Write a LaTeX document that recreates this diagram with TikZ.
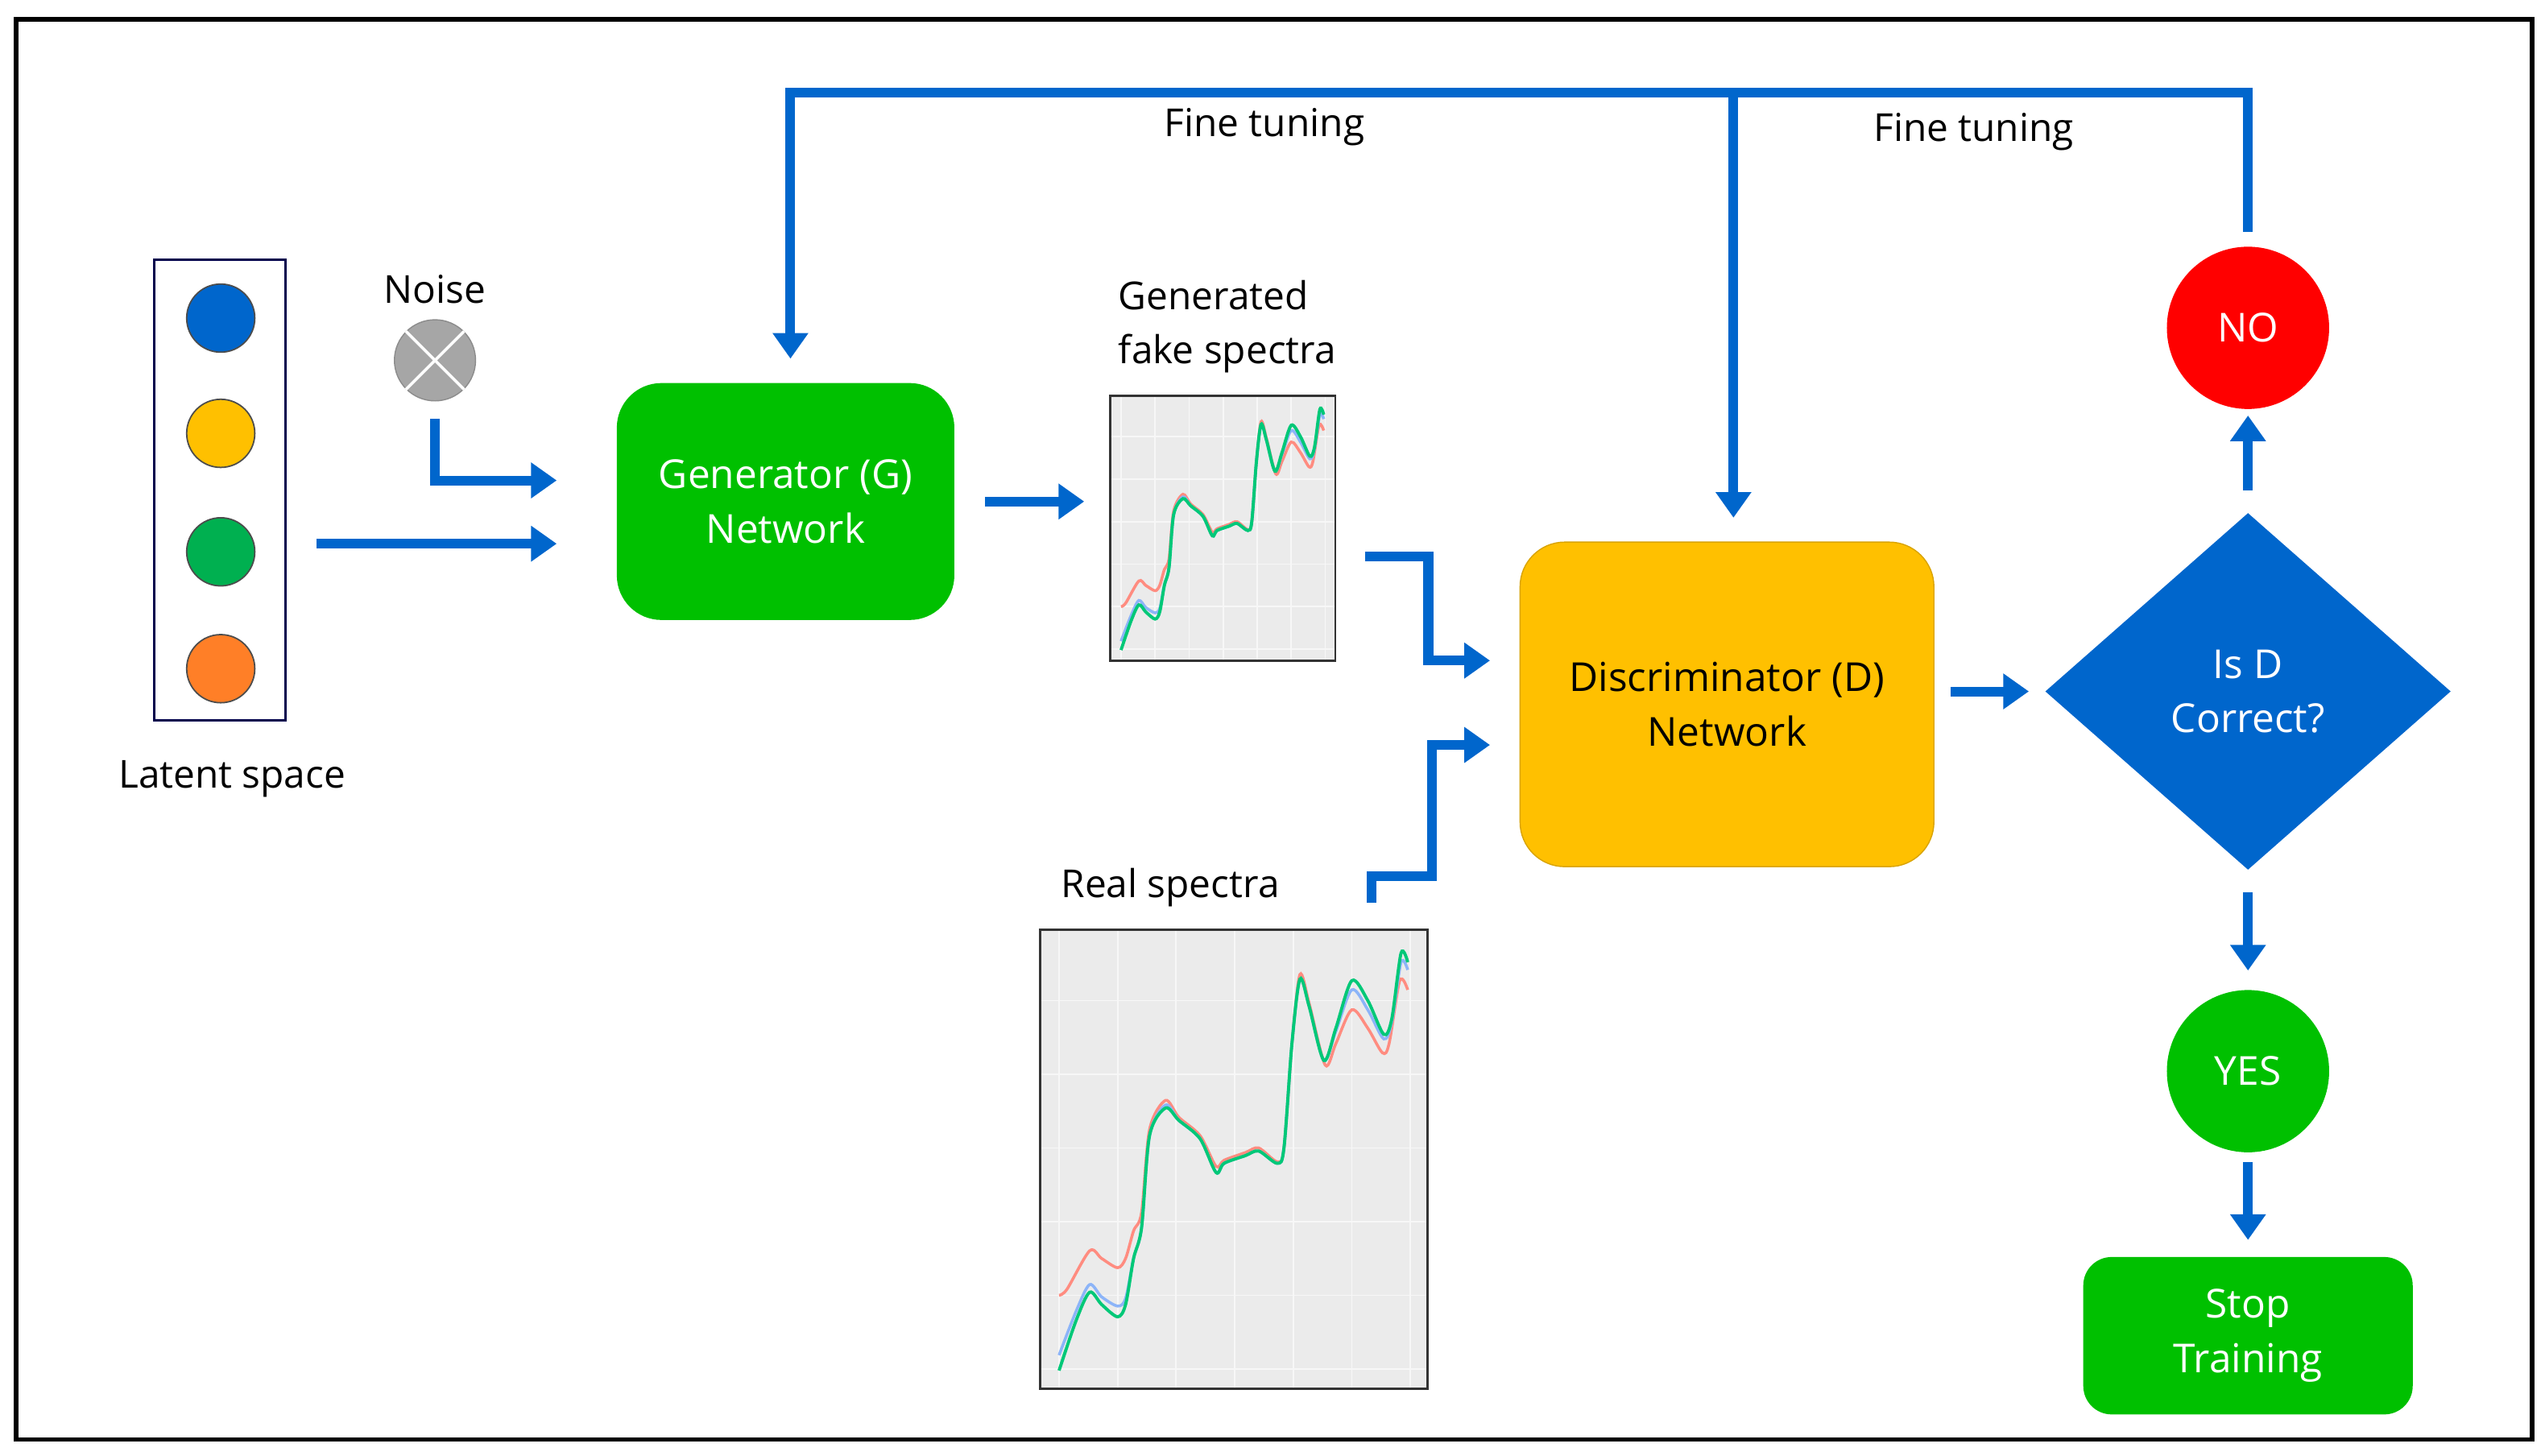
\documentclass[tikz,border=0pt]{standalone}
\usepackage{fontspec}
\setmainfont{Open Sans}
\usetikzlibrary{arrows.meta,shapes.geometric,positioning}
\definecolor{flowblue}{HTML}{0066CC}
\definecolor{boxgreen}{HTML}{00C000}
\definecolor{boxyellow}{HTML}{FFC000}
\definecolor{dotorange}{HTML}{FF7F27}
\definecolor{dotgreen}{HTML}{00B050}
\definecolor{plotbg}{HTML}{EBEBEB}
\definecolor{lred}{HTML}{FF8C80}
\definecolor{lblue}{HTML}{8CB4F8}
\definecolor{lgreen}{HTML}{00C878}
% spectrum plot drawn in its own pixel grid (1455 x 1495)
\newcommand\spectrumplot{%
  \fill[plotbg] (0,0) rectangle (1455,1495);
  \foreach \gx in {70,290,...,1400} \draw[white!60!plotbg,line width=0.5pt] (\gx,0) -- (\gx,1495);
  \foreach \gy in {230,470,...,1490} \draw[white!60!plotbg,line width=0.5pt] (0,\gy) -- (1455,\gy);
  \draw[lred,line width=1pt] plot[smooth,tension=0.5] coordinates {(70,1190) (100,1170) (185,1045) (230,1070) (290,1100) (320,1070) (350,980) (380,920) (410,650) (470,555) (520,610) (600,670) (660,770) (690,750) (770,725) (820,710) (890,755) (915,710) (945,370) (975,145) (1010,240) (1070,440) (1110,370) (1170,260) (1230,320) (1285,400) (1310,370) (1350,165) (1380,195)};
  \draw[lblue,line width=1pt] plot[smooth,tension=0.5] coordinates {(70,1385) (135,1240) (185,1155) (230,1195) (290,1225) (320,1200) (350,1070) (380,970) (410,670) (470,570) (520,620) (600,680) (660,790) (690,760) (770,735) (820,720) (890,760) (915,710) (945,370) (975,160) (1010,250) (1065,425) (1110,330) (1170,195) (1230,260) (1290,355) (1320,300) (1355,105) (1380,130)};
  \draw[lgreen,line width=1.1pt] plot[smooth,tension=0.5] coordinates {(70,1435) (135,1270) (185,1180) (230,1220) (290,1260) (320,1220) (350,1070) (380,970) (410,670) (470,580) (520,620) (600,680) (660,790) (690,760) (770,735) (820,720) (890,760) (915,710) (945,370) (975,160) (1010,250) (1065,425) (1110,320) (1170,165) (1230,230) (1290,340) (1320,290) (1355,75) (1380,105)};
  \draw[black!80,line width=0.8pt] (0,0) rectangle (1455,1495);
}
\begin{document}
\begin{tikzpicture}[x=0.02cm,y=-0.02cm,
  flow/.style = {draw=flowblue,line width=3.4pt,-{Triangle[width=12pt,length=9pt]}},
  box/.style  = {draw=none,rounded corners=0.55cm,align=center,font=\fontsize{14}{19}\selectfont},
  dot/.style  = {circle,draw=black!70,line width=0.5pt,minimum size=0.84cm,inner sep=0pt},
  lbl/.style  = {font=\fontsize{13.5}{19}\selectfont,align=left},
  round/.style= {circle,minimum size=2cm,inner sep=0pt,text=white,font=\fontsize{14}{16}\selectfont},
  ]
\useasboundingbox (0,0) rectangle (1568,897);
\draw[line width=1.6pt] (10,12) rectangle (1560,887);

% latent space
\draw[draw=black!70!blue,line width=0.8pt] (95,160) rectangle (176,444);
\node[dot,fill=flowblue] (l1) at (136,196) {};
\node[dot,fill=boxyellow] (l2) at (136,267) {};
\node[dot,fill=dotgreen] (l3) at (136,340) {};
\node[dot,fill=dotorange] (l4) at (136,412) {};
\node[lbl] (latent) at (143,480) {Latent space};

% noise
\node[circle,fill=black!35,draw=black!45,minimum size=1cm,inner sep=0pt] (noise) at (268,222) {};
\draw[white,line width=1pt] (noise.45) -- (noise.225) (noise.135) -- (noise.315);
\node[lbl] (noiselbl) at (268,178) {Noise};

% main boxes
\node[box,fill=boxgreen,text=white,minimum width=4.16cm,minimum height=2.92cm] (gen) at (484,309) {Generator (G)\\Network};
\node[box,fill=boxyellow,draw=boxyellow!85!black,minimum width=5.1cm,minimum height=4cm] (disc) at (1064,434) {Discriminator (D)\\Network};
\node[diamond,fill=flowblue,text=white,minimum width=5cm,minimum height=4.4cm,inner sep=0pt,align=center,font=\fontsize{14}{19}\selectfont] (check) at (1385,426) {Is D\\Correct?};
\node[round,fill=red] (no) at (1385,202) {NO};
\node[round,fill=boxgreen] (yes) at (1385,660) {YES};
\node[box,fill=boxgreen,text=white,rounded corners=0.35cm,minimum width=4.06cm,minimum height=1.94cm] (stop) at (1385,823) {Stop\\Training};

% spectra
\begin{scope}[shift={(684,244)},x=0.001911cm,y=-0.00218cm]
  \spectrumplot
\end{scope}
\node[lbl,anchor=south west] (fakelbl) at (683,236) {Generated\\fake spectra};
\begin{scope}[shift={(641,573)},x=0.003285cm,y=-0.003786cm]
  \spectrumplot
\end{scope}
\node[lbl] (reallbl) at (721,547) {Real spectra};

% connectors
\coordinate (latentout) at (195,335);
\coordinate (genin1) at (343,335);
\coordinate (noiseout) at (268,258);
\coordinate (genin2) at (343,296);
\draw[flow] (latentout) -- (genin1);
\draw[flow] (noiseout) |- (genin2);
\coordinate (genout) at (607,309);
\coordinate (fakein) at (668,309);
\draw[flow] (genout) -- (fakein);
\coordinate (fakeout) at (841,343);
\coordinate (discin1) at (918,407);
\draw[flow] (fakeout) -| (880,375) |- (discin1);
\coordinate (realout) at (845,556);
\coordinate (discin2) at (918,459);
\draw[flow] (realout) |- (882,540) |- (discin2);
\coordinate (discout) at (1202,426);
\coordinate (checkin) at (1250,426);
\draw[flow] (discout) -- (checkin);
\coordinate (checktop) at (1385,302);
\coordinate (noin) at (1385,256);
\draw[flow] (checktop) -- (noin);
\coordinate (checkbot) at (1385,550);
\coordinate (yesin) at (1385,598);
\draw[flow] (checkbot) -- (yesin);
\coordinate (yesout) at (1385,716);
\coordinate (stopin) at (1385,764);
\draw[flow] (yesout) -- (stopin);

% fine tuning feedback
\coordinate (notop) at (1385,143);
\coordinate (gentop) at (487,221);
\coordinate (disctop) at (1068,319);
\draw[flow] (notop) |- (1068,57) -| (gentop);
\draw[flow] (1068,57) -- (disctop);
\node[lbl] (ft1) at (779,78) {Fine tuning};
\node[lbl] (ft2) at (1216,81) {Fine tuning};
\end{tikzpicture}
\end{document}
